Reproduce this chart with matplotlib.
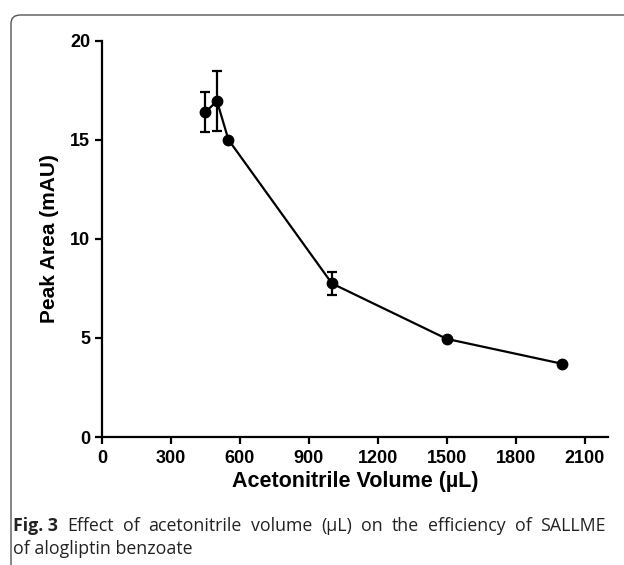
import numpy as np
import matplotlib
matplotlib.use("Agg")
import matplotlib.pyplot as plt
from matplotlib.patches import FancyBboxPatch

# ---------------------------------------------------------------
# Data
# ---------------------------------------------------------------
volume = [450, 500, 550, 1000, 1500, 2000]          # acetonitrile volume (uL)
peak_area = [16.4, 16.95, 15.0, 7.75, 4.95, 3.7]    # peak area (mAU)
peak_err = [1.0, 1.5, 0.0, 0.6, 0.0, 0.0]           # error bars

x_ticks = [0, 300, 600, 900, 1200, 1500, 1800, 2100]
y_ticks = [0, 5, 10, 15, 20]

caption_bold = "Fig. 3"
caption_line1 = "Effect of acetonitrile volume (\u00b5L) on the efficiency of SALLME"
caption_line2 = "of alogliptin benzoate"

plt.rcParams['font.family'] = ['Liberation Sans', 'DejaVu Sans']

W, H = 624, 565
fig = plt.figure(figsize=(W / 100, H / 100), dpi=100)
ax = fig.add_axes([0.1635, 0.2265, 0.8105, 0.7015])

# frame around figure + caption (rounded box, cut by the page edge)
frame = FancyBboxPatch((11 / W, -0.2), 1.2, 1 - 15 / H + 0.2,
                       boxstyle="round,pad=0,rounding_size=0.015",
                       transform=fig.transFigure, fill=False,
                       edgecolor="#555555", linewidth=1.0, clip_on=False)
fig.patches.append(frame)

ax.errorbar(volume, peak_area, yerr=peak_err, color="black", lw=1.6,
            marker="o", ms=7.5, capsize=3.5, capthick=1.6, elinewidth=1.6)

ax.set_xlim(0, 2200)
ax.set_ylim(0, 20)
ax.set_xticks(x_ticks)
ax.set_yticks(y_ticks)
ax.spines["top"].set_visible(False)
ax.spines["right"].set_visible(False)
for s in ("left", "bottom"):
    ax.spines[s].set_linewidth(1.6)
ax.tick_params(direction="out", length=5, width=1.6, labelsize=13)
ax.tick_params(axis="x", pad=4)
for lab in ax.get_xticklabels() + ax.get_yticklabels():
    lab.set_fontweight("bold")

ax.set_xlabel("Acetonitrile Volume (\u00b5L)", fontsize=15.5, fontweight="bold",
              labelpad=3)
ax.set_ylabel("Peak Area (mAU)", fontsize=15, fontweight="bold", labelpad=8)

# caption: first line justified to the right margin
cap_kw = dict(fontsize=12.8, family="Open Sans", va="baseline", color="#222222")
x0, x1 = 13, 606
y1, y2 = 1 - 531 / H, 1 - 554 / H
renderer = fig.canvas.get_renderer()
words = [(caption_bold, "bold")] + [(w, "normal") for w in caption_line1.split()]
texts = [fig.text(0, y1, w, fontweight=fw, **cap_kw) for w, fw in words]
widths = [t.get_window_extent(renderer).width for t in texts]
gap = (x1 - x0 - sum(widths)) / (len(texts) - 1)
x = x0
for t, w in zip(texts, widths):
    t.set_x(x / W)
    x += w + gap
fig.text(x0 / W, y2, caption_line2, **cap_kw)

fig.savefig("out.png", dpi=100)
